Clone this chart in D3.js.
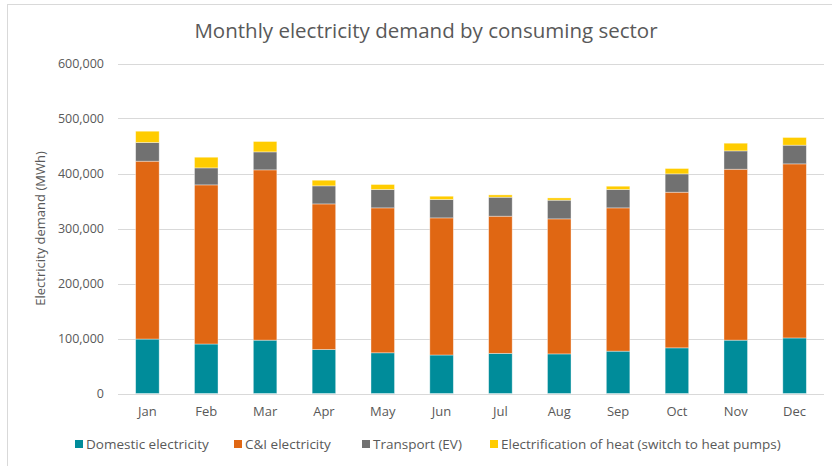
<!DOCTYPE html>
<html>
<head>
<meta charset="utf-8">
<script src="https://cdn.jsdelivr.net/npm/d3@7"></script>
<style>
  body { margin: 0; background: #fff; }
  text { font-family: "Open Sans", sans-serif; fill: #595959; }
</style>
</head>
<body>
<div id="chart"></div>
<script>
// months along the x axis
const months = ["Jan", "Feb", "Mar", "Apr", "May", "Jun", "Jul", "Aug", "Sep", "Oct", "Nov", "Dec"];

// MWh per month
const domestic  = [99000, 90000, 97000, 80000, 74000, 70000, 73000, 72000, 77000, 83000, 97000, 101000];
const candi     = [323400, 289300, 309600, 264700, 263500, 249300, 249400, 245500, 260500, 283000, 310800, 316500];
const transport = [34000, 30900, 32700, 32800, 33400, 33400, 34500, 34000, 33400, 33300, 33300, 34000];
const heat      = [20500, 19400, 18900, 10300, 9100, 6000, 4200, 4100, 6000, 9800, 14000, 14000];

const seriesNames = ["Domestic electricity", "C&I electricity", "Transport (EV)", "Electrification of heat (switch to heat pumps)"];
const seriesColors = ["#008C9A", "#E06713", "#717171", "#FFCC00"];
const yTicks = [0, 100000, 200000, 300000, 400000, 500000, 600000];

const W = 832, H = 466;
const plot = { left: 118, right: 824, top: 63.5, bottom: 393.5 };

const svg = d3.select("#chart").append("svg")
  .attr("width", W)
  .attr("height", H);

// outer chart border (runs off the right and bottom edges)
svg.append("rect")
  .attr("x", 7.5).attr("y", 4.5)
  .attr("width", W + 10).attr("height", H + 10)
  .attr("fill", "none")
  .attr("stroke", "#d9d9d9");

const x = d3.scaleBand()
  .domain(months)
  .range([plot.left, plot.right])
  .paddingInner(0.6)
  .paddingOuter(0.3);

const y = d3.scaleLinear()
  .domain([0, 600000])
  .range([plot.bottom, plot.top]);

// gridlines
svg.append("g")
  .selectAll("line")
  .data(yTicks)
  .join("line")
  .attr("x1", plot.left)
  .attr("x2", plot.right)
  .attr("y1", d => Math.round(y(d)) + 0.5)
  .attr("y2", d => Math.round(y(d)) + 0.5)
  .attr("stroke", "#d9d9d9")
  .attr("stroke-width", 1);

// y axis labels
const yAxis = svg.append("g")
  .attr("transform", `translate(${plot.left},0)`)
  .call(d3.axisLeft(y).tickValues(yTicks).tickFormat(d3.format(",")).tickSize(0).tickPadding(14));
yAxis.select(".domain").remove();
yAxis.selectAll("text")
  .style("font-size", "12.5px")
  .style("font-family", "'Open Sans', sans-serif")
  .attr("fill", "#595959");

// x axis labels
const xAxis = svg.append("g")
  .attr("transform", `translate(0,${plot.bottom})`)
  .call(d3.axisBottom(x).tickSize(0).tickPadding(13));
xAxis.select(".domain").remove();
xAxis.selectAll("text")
  .style("font-size", "13px")
  .style("font-family", "'Open Sans', sans-serif")
  .attr("fill", "#595959");

// stack the series
const table = months.map((m, i) => ({
  month: m,
  s0: domestic[i], s1: candi[i], s2: transport[i], s3: heat[i]
}));
const stack = d3.stack().keys(["s0", "s1", "s2", "s3"])(table);

svg.append("g")
  .selectAll("g")
  .data(stack)
  .join("g")
  .attr("fill", (d, i) => seriesColors[i])
  .selectAll("rect")
  .data(d => d)
  .join("rect")
  .attr("x", d => x(d.data.month))
  .attr("width", x.bandwidth())
  .attr("y", d => y(d[1]))
  .attr("height", d => y(d[0]) - y(d[1]))
  .attr("stroke", "#fff")
  .attr("stroke-opacity", 0.5)
  .attr("stroke-width", 0.75);

// title
svg.append("text")
  .attr("x", 426)
  .attr("y", 38)
  .attr("text-anchor", "middle")
  .style("font-size", "20.5px")
  .text("Monthly electricity demand by consuming sector");

// y axis title
svg.append("text")
  .attr("transform", `translate(45,${(plot.top + plot.bottom) / 2}) rotate(-90)`)
  .attr("text-anchor", "middle")
  .style("font-size", "13px")
  .text("Electricity demand (MWh)");

// legend
const legendX = [75, 234, 362, 490];
const legend = svg.append("g")
  .selectAll("g")
  .data(seriesNames)
  .join("g")
  .attr("transform", (d, i) => `translate(${legendX[i]},444)`);
legend.append("rect")
  .attr("x", 0).attr("y", -4)
  .attr("width", 8).attr("height", 8)
  .attr("fill", (d, i) => seriesColors[i]);
legend.append("text")
  .attr("x", 11)
  .attr("y", 4.5)
  .style("font-size", "13.5px")
  .text(d => d);
</script>
</body>
</html>
